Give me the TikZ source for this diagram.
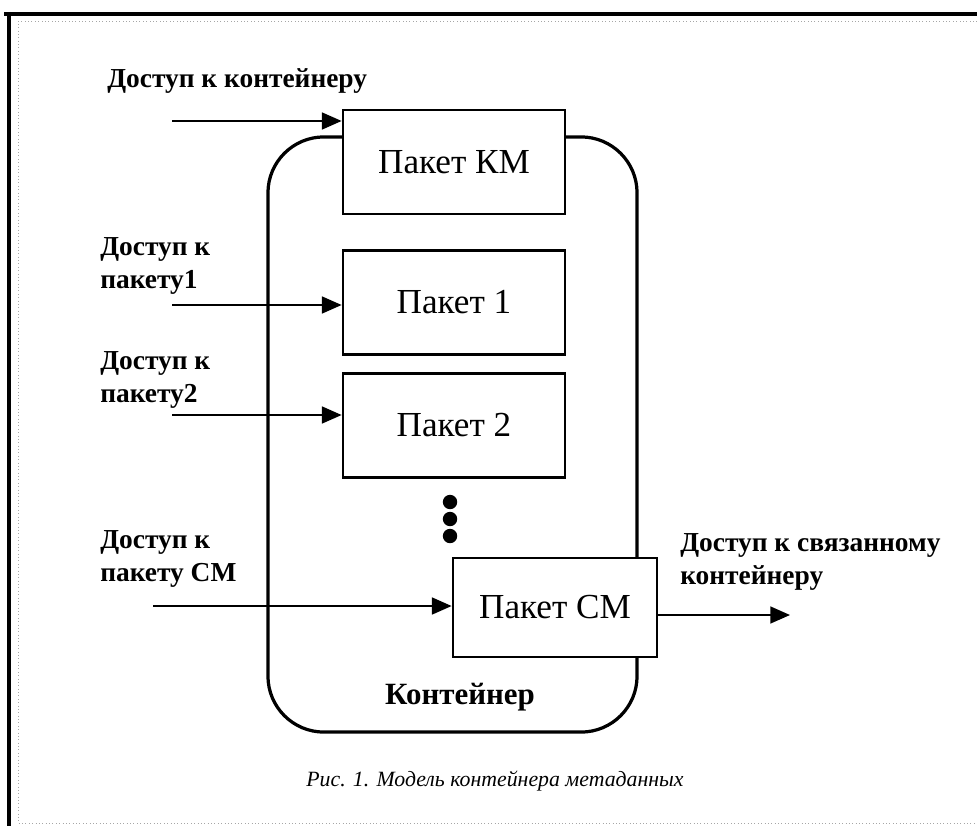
\documentclass[tikz,border=0pt]{standalone}
\usepackage{fontspec}
\setmainfont{Liberation Serif}
\usetikzlibrary{arrows.meta}

\begin{document}
\begin{tikzpicture}[x=0.025cm, y=-0.025cm,
    pkt/.style={draw, line width=1.9pt, fill=white, minimum width=5.55cm, minimum height=2.6cm,
                font=\fontsize{25}{30}\selectfont},
    lbl/.style={font=\fontsize{19.5}{23}\selectfont\bfseries, align=left, anchor=west, inner sep=0pt},
    acc/.style={line width=1.4pt, -{Triangle[length=14pt, width=12pt]}}]
    \useasboundingbox (0,0) rectangle (977,826);
    % frame of the figure
    \draw[line width=2.8pt] (4,14) -- (977,14);
    \draw[line width=2.8pt] (9,12) -- (9,826);
    \draw[gray!70, dotted] (977,21) -- (18,21) -- (18,823) -- (977,823);
    % container
    \node (cont) [draw, line width=2.3pt, rounded corners=1.4cm, minimum width=9.225cm, minimum height=14.875cm] at (452.5,434.5) {};
    \node (contlbl) [font=\fontsize{22}{26}\selectfont\bfseries] at (460,697) {Контейнер};
    % packets
    \node (km) [pkt] at (454,162) {Пакет КМ};
    \node (p1) [pkt] at (454,302.5) {Пакет 1};
    \node (p2) [pkt] at (454,425.5) {Пакет 2};
    \node (cm) [pkt, minimum width=5.1cm, minimum height=2.475cm] at (555,607.5) {Пакет СМ};
    \foreach \y in {502,519,536} \fill (450,\y) circle (0.18cm);
    % access labels
    \node (akm) [lbl] at (107,81) {Доступ к контейнеру};
    \node (ap1) [lbl] at (100,266) {Доступ к\\пакету1};
    \node (ap2) [lbl] at (100,380) {Доступ к\\пакету2};
    \node (acm) [lbl] at (100,559) {Доступ к\\пакету СМ};
    \node (alnk) [lbl] at (680,562) {Доступ к связанному\\контейнеру};
    % arrows
    \coordinate (skm) at (172,121);
    \coordinate (sp1) at (172,305);
    \coordinate (sp2) at (172,415);
    \coordinate (scm) at (153,606);
    \coordinate (elnk) at (790,615);
    \draw[acc] (skm) -- (km.west |- skm);
    \draw[acc] (sp1) -- (p1.west |- sp1);
    \draw[acc] (sp2) -- (p2.west |- sp2);
    \draw[acc] (scm) -- (cm.west |- scm);
    \draw[acc] (cm.east |- elnk) -- (elnk);
    \node (cap) [font=\fontsize{15.5}{18}\selectfont\itshape] at (495,781) {Рис. 1. Модель контейнера метаданных};
\end{tikzpicture}
\end{document}
